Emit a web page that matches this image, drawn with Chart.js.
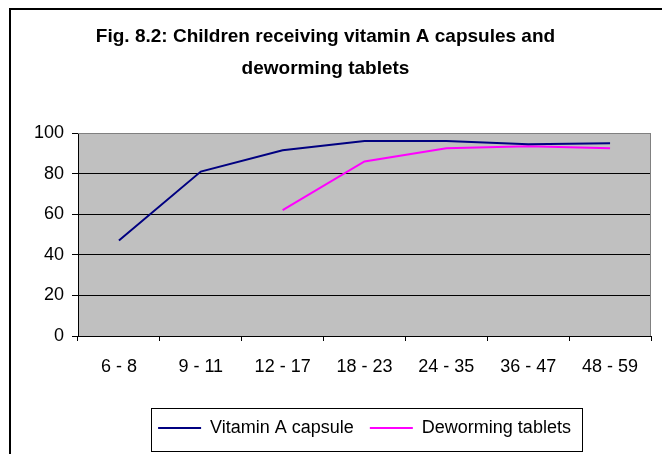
<!DOCTYPE html>
<html>
<head>
<meta charset="utf-8">
<script src="https://cdn.jsdelivr.net/npm/chart.js@4.4.1/dist/chart.umd.min.js"></script>
<style>
  body { margin: 0; background: #fff; }
  #wrap { position: relative; width: 662px; height: 454px; overflow: hidden; }
  #frame { position: absolute; left: 9px; top: 8px; width: 700px; height: 500px;
           border-left: 2px solid #000; border-top: 2px solid #000; }
  canvas { position: absolute; left: 0; top: 0; }
</style>
</head>
<body>
<div id="wrap">
  <div id="frame"></div>
  <canvas id="chart" width="662" height="454"></canvas>
</div>
<script>
const ageGroups = ['6 - 8', '9 - 11', '12 - 17', '18 - 23', '24 - 35', '36 - 47', '48 - 59'];
const vitaminA = [47, 81, 91.5, 96, 96, 94.5, 95];
const deworming = [null, null, 62, 86, 92.5, 93.5, 92.5];
const yTicks = [0, 20, 40, 60, 80, 100];

const FONT = 'Liberation Sans, Arial, sans-serif';

// grey plot background, grey right / top border, box round the legend
const plotFrame = {
    id: 'plotFrame',
    beforeDraw(chart) {
        const { ctx, chartArea: a } = chart;
        ctx.save();
        ctx.fillStyle = '#c0c0c0';
        ctx.fillRect(a.left, a.top, a.right - a.left, a.bottom - a.top);
        ctx.restore();
    },
    afterDatasetsDraw(chart) {
        const { ctx, chartArea: a } = chart;
        ctx.save();
        ctx.strokeStyle = '#808080';
        ctx.lineWidth = 1;
        ctx.beginPath();
        ctx.moveTo(a.left, a.top + 0.5);
        ctx.lineTo(a.right - 0.5, a.top + 0.5);
        ctx.lineTo(a.right - 0.5, a.bottom);
        ctx.stroke();
        ctx.restore();
    },
    afterDraw(chart) {
        const boxes = chart.legend.legendHitBoxes;
        if (!boxes || !boxes.length) return;
        const first = boxes[0];
        const last = boxes[boxes.length - 1];
        const mid = first.top + first.height / 2;
        const { ctx } = chart;
        ctx.save();
        ctx.strokeStyle = '#000';
        ctx.lineWidth = 1;
        ctx.strokeRect(Math.round(first.left - 7) + 0.5, Math.round(mid - 20) + 0.5,
            Math.round(last.left + last.width - first.left + 18), 43);
        ctx.restore();
    }
};

new Chart(document.getElementById('chart'), {
    type: 'line',
    data: {
        labels: ageGroups,
        datasets: [
            {
                label: 'Vitamin A capsule',
                data: vitaminA,
                borderColor: '#000080',
                backgroundColor: '#000080',
                borderWidth: 2,
                pointRadius: 0,
                tension: 0
            },
            {
                label: 'Deworming tablets',
                data: deworming,
                borderColor: '#ff00ff',
                backgroundColor: '#ff00ff',
                borderWidth: 2,
                pointRadius: 0,
                tension: 0
            }
        ]
    },
    options: {
        responsive: false,
        animation: false,
        layout: { padding: { left: 0, right: 11, top: 0, bottom: 7 } },
        plugins: {
            tooltip: { enabled: false },
            title: {
                display: true,
                text: ['Fig. 8.2: Children receiving vitamin A capsules and', 'deworming tablets'],
                color: '#000',
                font: { family: FONT, size: 19, weight: 'bold', lineHeight: 32 / 19 },
                padding: { top: 21, bottom: 48 }
            },
            legend: {
                position: 'bottom',
                fullSize: false,
                labels: {
                    color: '#000',
                    font: { family: FONT, size: 18 },
                    usePointStyle: true,
                    pointStyle: 'line',
                    pointStyleWidth: 43,
                    boxHeight: 18,
                    padding: 16
                }
            }
        },
        scales: {
            x: {
                offset: true,
                grid: { display: true, drawOnChartArea: false, offset: true, tickLength: 5, tickColor: '#000' },
                border: { display: true, color: '#000', width: 1 },
                ticks: { color: '#000', font: { family: FONT, size: 18 }, padding: 15, maxRotation: 0, autoSkip: false },
                afterFit(scale) { scale.height = 67; }
            },
            y: {
                min: 0,
                max: 100,
                afterBuildTicks(scale) { scale.ticks = yTicks.map(v => ({ value: v })); },
                grid: {
                    color: ctx => ctx.tick && ctx.tick.value === 100 ? '#808080' : '#000',
                    tickLength: 6,
                    tickColor: '#000'
                },
                border: { display: true, color: '#000', width: 1 },
                ticks: { color: '#000', font: { family: FONT, size: 18 }, padding: 8 },
                afterFit(scale) { scale.width = 78; }
            }
        }
    },
    plugins: [plotFrame]
});
</script>
</body>
</html>
